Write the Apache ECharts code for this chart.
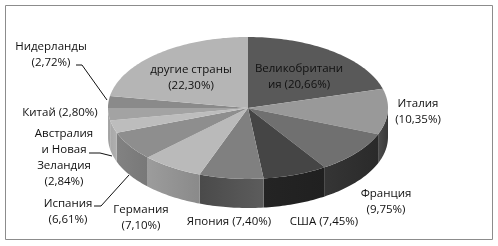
<!DOCTYPE html>
<html><head><meta charset="utf-8">
<style>html,body{margin:0;padding:0;background:#fff}#c{width:498px;height:246px}</style>
<script src="https://cdn.jsdelivr.net/npm/echarts@6/dist/echarts.min.js"></script>
</head><body><div id="c"></div>
<script>
const categories = ['Великобритания','Италия','Франция','США','Япония','Германия','Испания','Австралия и Новая Зеландия','Китай','Нидерланды','другие страны'];
const shares = [20.66,10.35,9.75,7.45,7.40,7.10,6.61,2.84,2.80,2.72,22.30];
const valueLabels = ['20,66%','10,35%','9,75%','7,45%','7,40%','7,10%','6,61%','2,84%','2,80%','2,72%','22,30%'];

const topColors = ['#595959','#999999','#707070','#454545','#808080','#bababa','#8e8e8e','#bdbdbd','#a3a3a3','#8a8a8a','#b5b5b5'];
const sideFrom = ['#555','#4c4c4c','#353535','#242424','#4a4a4a','#9c9c9c','#828282','#a8a8a8','#a8a8a8','#888','#888'];
const sideTo   = ['#555','#383838','#2a2a2a','#202020','#5c5c5c','#8a8a8a','#787878','#b0b0b0','#a0a0a0','#888','#888'];
const DEPTH = 0.41;

const labelBoxes = [
 {lines:['Великобритани','ия (20,66%)'], x:299, y:77},
 {lines:['Италия','(10,35%)'], x:418, y:112},
 {lines:['Франция','(9,75%)'], x:386, y:202},
 {lines:['США (7,45%)'], x:324, y:222},
 {lines:['Япония (7,40%)'], x:229, y:222},
 {lines:['Германия','(7,10%)'], x:141, y:218},
 {lines:['Испания','(6,61%)'], x:68, y:212},
 {lines:['Австралия','и Новая','Зеландия','(2,84%)'], x:64, y:158},
 {lines:['Китай (2,80%)'], x:60, y:113},
 {lines:['Нидерланды','(2,72%)'], x:51, y:55},
 {lines:['другие страны','(22,30%)'], x:191, y:78}
];
const leaderLines = [
 [[76,65],[82,65],[107,100]],
 [[89,153],[100,153],[112,156]],
 [[94,206],[101,206],[129,175]]
];

const total = shares.reduce((a,b)=>a+b,0);
let acc = 0;
const rows = shares.map((v,i)=>{const s=acc/total*2*Math.PI; acc+=v; return [i,s,acc/total*2*Math.PI];});

function renderSlice(params, api){
  const i = api.value(0), a0 = api.value(1), a1 = api.value(2);
  const pt = (t,dy)=>api.coord([Math.sin(t), Math.cos(t)-(dy||0)]);
  const N = Math.max(4, Math.ceil((a1-a0)/0.02));
  const top = [api.coord([0,0])];
  for(let k=0;k<=N;k++) top.push(pt(a0+(a1-a0)*k/N));
  const children = [];
  const s0 = Math.max(a0, Math.PI/2), s1 = Math.min(a1, 1.5*Math.PI);
  if(s1>s0){
    const M = Math.max(4, Math.ceil((s1-s0)/0.02));
    const up=[], down=[];
    for(let k=0;k<=M;k++){const t=s0+(s1-s0)*k/M; up.push(pt(t)); down.unshift(pt(t,DEPTH));}
    children.push({type:'polygon', shape:{points:up.concat(down)},
      style:{fill:new echarts.graphic.LinearGradient(0,0,1,0,[{offset:0,color:sideFrom[i]},{offset:1,color:sideTo[i]}]), stroke:null}});
  }
  children.push({type:'polygon', shape:{points:top}, style:{fill:topColors[i], stroke:null}});
  return {type:'group', children};
}

const font = '"Open Sans","Noto Sans",sans-serif';
const graphics = [
 {type:'rect', shape:{x:5.5,y:5.5,width:487,height:234}, style:{fill:'none',stroke:'#8c8c8c',lineWidth:1}, z:0}
];
leaderLines.forEach(p=>graphics.push({type:'polyline', shape:{points:p}, style:{fill:'none',stroke:'#111',lineWidth:1}, z:20}));
labelBoxes.forEach(b=>{
  graphics.push({type:'text', z:30, style:{x:b.x, y:b.y, text:b.lines.join('\n'), fill:'#111',
    font:'11.5px '+font, lineHeight:16, align:'center', verticalAlign:'middle'}});
});

const chart = echarts.init(document.getElementById('c'));
chart.setOption({
  animation:false,
  backgroundColor:'#fff',
  grid:{left:108,top:37,width:280,height:171},
  xAxis:{type:'value',min:-1,max:1,show:false},
  yAxis:{type:'value',min:-1-DEPTH,max:1,show:false},
  graphic:graphics,
  series:[{type:'custom',coordinateSystem:'cartesian2d',renderItem:renderSlice,data:rows,
    encode:{x:1,y:2},clip:false,silent:true,z:5}]
});
</script></body></html>
